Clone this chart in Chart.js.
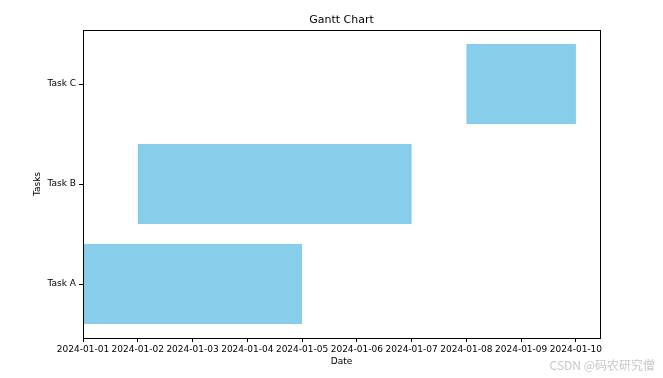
<!DOCTYPE html>
<html><head><meta charset="utf-8">
<script src="https://cdn.jsdelivr.net/npm/chart.js@4"></script>
<style>html,body{margin:0;padding:0;background:#fff}#wrap{width:663px;height:378px}</style>
</head><body><div id="wrap"><canvas id="c" width="663" height="378"></canvas></div>
<script>
const tasks = ['Task A', 'Task B', 'Task C'];
const startDays = [0, 1, 7];   // days after 2024-01-01
const endDays = [4, 6, 9];
const dateTicks = ['2024-01-01','2024-01-02','2024-01-03','2024-01-04','2024-01-05','2024-01-06','2024-01-07','2024-01-08','2024-01-09','2024-01-10'];
const chartTitle = 'Gantt Chart';

const FONT = "'DejaVu Sans', sans-serif";
const frame = {
  id: 'frame',
  afterDatasetsDraw(chart) {
    const a = chart.chartArea, ctx = chart.ctx;
    ctx.save();
    ctx.strokeStyle = '#000'; ctx.lineWidth = 1;
    ctx.strokeRect(Math.round(a.left) + 0.5, Math.round(a.top) + 0.5, Math.round(a.right - a.left), Math.round(a.bottom - a.top));
    ctx.restore();
  },
  afterDraw(chart) {
    const ctx = chart.ctx, a = chart.chartArea;
    ctx.save();
    ctx.font = "11px " + FONT;
    ctx.fillStyle = '#000';
    ctx.textAlign = 'center'; ctx.textBaseline = 'middle';
    ctx.fillText(chartTitle, (a.left + a.right) / 2, 20);
    ctx.font = "12px 'Noto Sans CJK SC', sans-serif";
    ctx.fillStyle = '#c8c8c8';
    ctx.textAlign = 'right'; ctx.textBaseline = 'middle';
    ctx.fillText('CSDN @码农研究僧', 655, 365);
    ctx.restore();
  }
};

new Chart(document.getElementById('c'), {
  type: 'bar',
  data: {
    datasets: [{
      data: tasks.map((t, i) => ({ x: [startDays[i], endDays[i]], y: i })),
      backgroundColor: '#87CEEB',
      borderWidth: 0,
      barPercentage: 0.8,
      categoryPercentage: 1.0
    }]
  },
  options: {
    indexAxis: 'y',
    responsive: false,
    animation: false,
    layout: { padding: { left: 28, right: 63, top: 30, bottom: 7 } },
    plugins: {
      legend: { display: false },
      tooltip: { enabled: false },
      title: { display: false }
    },
    scales: {
      x: {
        type: 'linear', min: 0, max: 9.44, offset: false,
        afterBuildTicks(s) { s.ticks = dateTicks.map((_, i) => ({ value: i })); },
        afterFit(s) { s.height = 33; },
        ticks: { callback: (v) => dateTicks[v] ?? '', color: '#000', font: { family: FONT, size: 9 }, maxRotation: 0, autoSkip: false, padding: 2 },
        grid: { drawOnChartArea: false, tickLength: 4, color: '#000', offset: false },
        border: { color: '#000' },
        title: { display: true, text: 'Date', color: '#000', font: { family: FONT, size: 9 }, padding: { top: 2, bottom: 4 } }
      },
      y: {
        type: 'linear', min: -0.54, max: 2.54, offset: false,
        afterBuildTicks(s) { s.ticks = tasks.map((_, i) => ({ value: i })); },
        afterFit(s) { s.width = 55; },
        ticks: { callback: (v) => tasks[v] ?? '', color: '#000', font: { family: FONT, size: 9 }, padding: 3 },
        grid: { drawOnChartArea: false, tickLength: 4, color: '#000', offset: false },
        border: { color: '#000' },
        title: { display: true, text: 'Tasks', color: '#000', font: { family: FONT, size: 9 }, padding: 4 }
      }
    }
  },
  plugins: [frame]
});
</script></body></html>
